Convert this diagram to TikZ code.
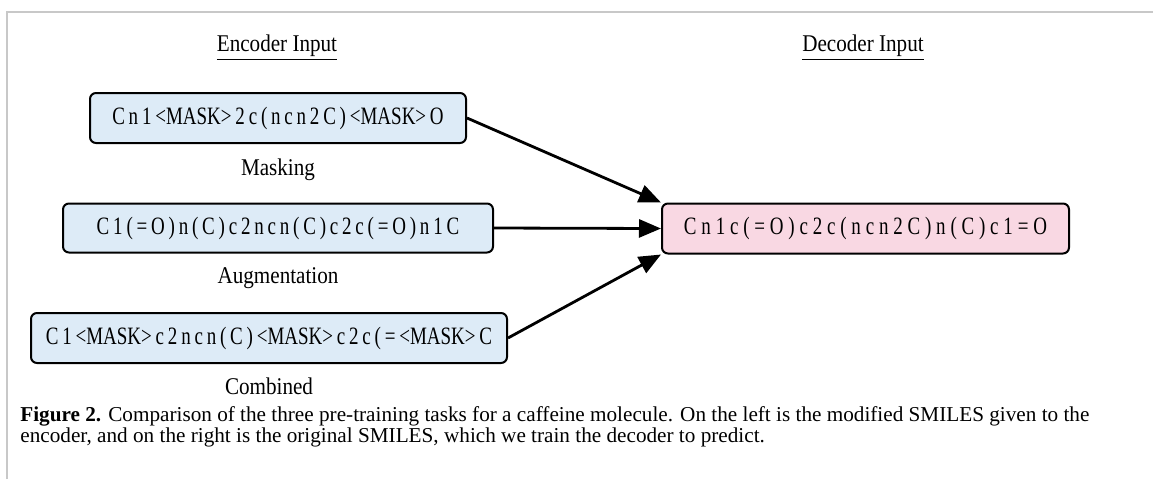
\documentclass[tikz,border=0pt]{standalone}
\usepackage{fontspec}
\setmainfont{Liberation Serif}
\newfontfamily\smilesfont[FakeStretch=0.76]{Liberation Serif}
\newfontfamily\lblfont[FakeStretch=0.88]{Liberation Serif}
\newcommand{\encfont}{\smilesfont\fontsize{12.5}{14}\selectfont\spaceskip 1.9pt\relax}
\newcommand{\decfont}{\smilesfont\fontsize{12.5}{14}\selectfont\spaceskip 2.4pt\relax}
\usetikzlibrary{arrows.meta,positioning}
\tikzset{
  smilesbox/.style = {draw=black, line width=1pt, rounded corners=3pt, minimum height=25pt,
  inner sep=2pt, text centered, font=\encfont},
  enc_in/.style = {smilesbox, fill=my_blue},
  dec_in/.style = {smilesbox, fill=my_pink, font=\decfont},
  tasklbl/.style = {inner sep=1pt, font=\lblfont\fontsize{12}{14}\selectfont},
  header/.style = {inner sep=1pt, font=\lblfont\fontsize{12}{14}\selectfont}
}
\definecolor{my_blue}{RGB}{221, 235, 247}
\definecolor{my_pink}{RGB}{249, 216, 227}
\definecolor{my_grey}{RGB}{200, 200, 200}

\begin{document}
\begin{tikzpicture}[x=0.5pt, y=-0.5pt, ->, >={Triangle[length=11pt,width=9pt]},
        	conn/.style={line width=1.4pt, black}]
	\useasboundingbox (0,0) rectangle (1153,479);
	% figure frame
	\draw[-, my_grey, line width=0.8pt] (7,479) -- (7,12) -- (1153,12);
	% headers
	\node [header] (enc_hd) at (277,48) {\underline{Encoder Input}};
	\node [header] (dec_hd) at (863,48) {\underline{Decoder Input}};
	% encoder inputs
	\node [enc_in, minimum width=188pt] (mask) at (278,118)
	    {C n 1 <MASK> 2 c ( n c n 2 C ) <MASK> O};
	\node [tasklbl, below=6pt of mask] (mask_l) {Masking};
	\node [enc_in, minimum width=215pt, minimum height=24.5pt] (aug) at (278,228)
	    {C 1 ( = O ) n ( C ) c 2 n c n ( C ) c 2 c ( = O ) n 1 C};
	\node [tasklbl, below=6pt of aug] (aug_l) {Augmentation};
	\node [enc_in, minimum width=238pt] (comb) at (269,338)
	    {C 1 <MASK> c 2 n c n ( C ) <MASK> c 2 c ( = <MASK> C};
	\node [tasklbl, below=5.5pt of comb] (comb_l) {Combined};
	% decoder input
	\node [dec_in, minimum width=203.5pt] (dec) at (865.5,228.5)
	    {C n 1 c ( = O ) c 2 c ( n c n 2 C ) n ( C ) c 1 = O};
	% connectors
	\draw [conn] (mask.east) -- (dec.north west);
	\draw [conn] (aug.east) -- (dec.west);
	\draw [conn] (comb.east) -- (dec.south west);
	% caption
	\node [anchor=west, align=left, inner sep=0pt, font=\fontsize{10.6}{10.5}\selectfont] (cap) at (20,427)
	    {\textbf{Figure 2.} Comparison of the three pre-training tasks for a caffeine molecule. On the left is the modified SMILES given to the\\
	    encoder, and on the right is the original SMILES, which we train the decoder to predict.};
\end{tikzpicture}
\end{document}
